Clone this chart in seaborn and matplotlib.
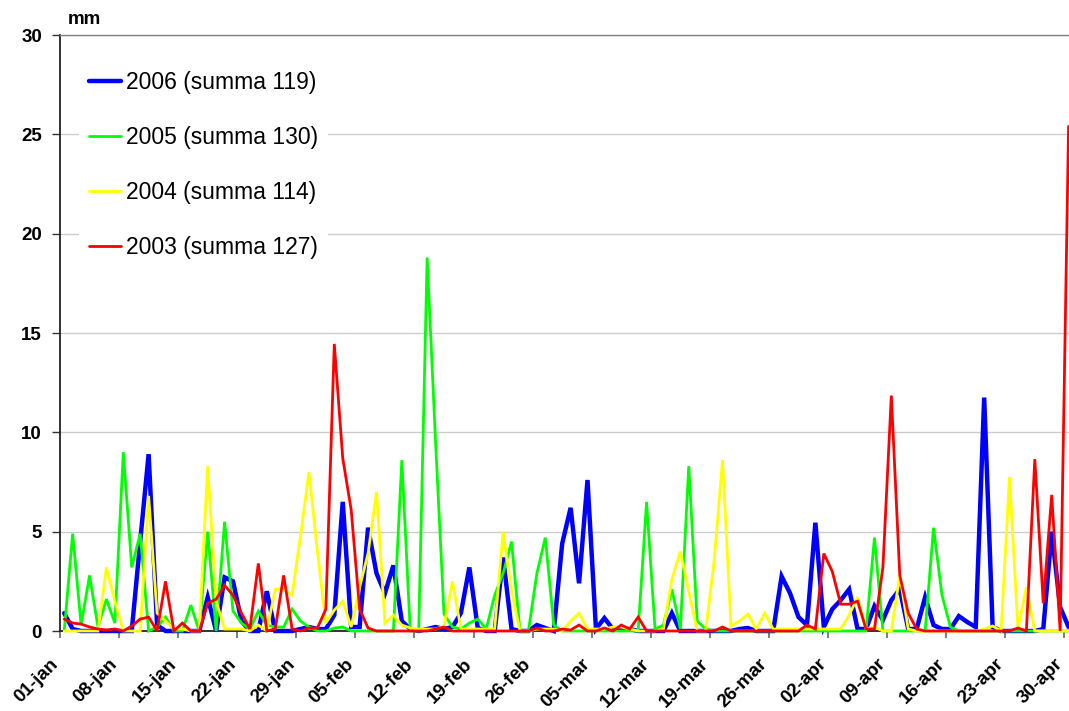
import numpy as np
import pandas as pd
import matplotlib
matplotlib.use("Agg")
import matplotlib.pyplot as plt
import matplotlib.transforms as mtransforms
import seaborn as sns

# ---------------- data (daily precipitation, mm) ----------------
days = pd.date_range("2006-01-01", "2006-04-30", freq="D")
day_labels = [f"{d.day:02d}-{['jan','feb','mar','apr'][d.month-1]}" for d in days]

tick_labels = ["01-jan", "08-jan", "15-jan", "22-jan", "29-jan", "05-feb", "12-feb",
               "19-feb", "26-feb", "05-mar", "12-mar", "19-mar", "26-mar", "02-apr",
               "09-apr", "16-apr", "23-apr", "30-apr"]

y2006 = [0.9, 0.1, 0, 0, 0, 0, 0, 0, 0, 4.5,
         8.9, 0.3, 0, 0, 0, 0, 0, 1.7, 0, 2.7,
         2.5, 0.5, 0, 0, 2.0, 0, 0, 0, 0.1, 0.2,
         0.1, 0.1, 0.8, 6.5, 0.2, 0.2, 5.2, 2.9, 1.9, 3.3,
         0.5, 0.1, 0, 0.1, 0.2, 0.1, 0.2, 0.9, 3.2, 0.15,
         0, 0, 3.7, 0.1, 0, 0, 0.3, 0.15, 0, 4.4,
         6.2, 2.4, 7.6, 0.1, 0.65, 0.1, 0.1, 0.1, 0, 0,
         0, 0, 0.9, 0, 0, 0, 0, 0, 0, 0,
         0.1, 0.15, 0, 0, 0, 2.75, 1.9, 0.7, 0.3, 5.45,
         0.2, 1.1, 1.55, 2.1, 0.1, 0.1, 1.25, 0.55, 1.55, 2.1,
         0.1, 0.1, 1.7, 0.3, 0.1, 0.1, 0.75, 0.45, 0.2, 11.75,
         0.2, 0, 0, 0, 0, 0, 0.1, 5.0, 1.2, 0.2]

y2005 = [0, 4.9, 0.3, 2.8, 0.2, 1.6, 0.4, 9.0, 3.2, 4.9,
         0, 0.2, 0.7, 0, 0, 1.3, 0, 5.0, 0, 5.5,
         1.0, 0.4, 0.1, 1.0, 0.3, 0.2, 0.2, 1.1, 0.5, 0.2,
         0, 0, 0.15, 0.2, 0, 0, 0, 0, 0, 0,
         8.6, 0, 0, 18.8, 9.5, 0.85, 0.2, 0.1, 0.4, 0.6,
         0.1, 1.8, 2.9, 4.5, 0, 0, 2.9, 4.7, 0.3, 0,
         0, 0, 0, 0, 0, 0, 0, 0, 0, 6.5,
         0.1, 0.3, 2.1, 0.1, 8.3, 0.5, 0.1, 0, 0, 0,
         0, 0, 0, 0, 0, 0, 0, 0, 0, 0,
         0, 0, 0, 0, 0, 0, 4.7, 0, 0, 0,
         0, 0, 0, 5.2, 1.8, 0.2, 0, 0, 0, 0,
         0, 0, 0, 0, 0, 0, 0, 0, 0, 0]

y2004 = [0, 0, 0, 0, 0, 3.2, 1.5, 0, 0, 0,
         6.8, 0.9, 0.5, 0.1, 0.1, 0, 0, 8.3, 1.5, 0.1,
         0.1, 0.1, 0, 0.3, 0, 2.1, 2.1, 1.8, 4.8, 8.0,
         4.0, 0.4, 1.05, 1.5, 0.2, 2.2, 3.9, 7.0, 0.4, 0.8,
         0.3, 0.15, 0.1, 0.1, 0.1, 0.25, 2.5, 0.1, 0.1, 0.1,
         0.1, 0.1, 5.0, 2.0, 0, 0, 0.1, 0.1, 0.1, 0,
         0.5, 0.9, 0.1, 0.1, 0.1, 0.2, 0.2, 0.1, 0, 0,
         0, 0.1, 2.6, 4.0, 2.0, 0, 0, 3.5, 8.6, 0.25,
         0.5, 0.85, 0.1, 0.9, 0.1, 0.1, 0.1, 0.1, 0.1, 0.1,
         0.1, 0.1, 0.1, 0.8, 1.7, 0.1, 0.2, 0, 0, 2.8,
         0.1, 0, 0, 0, 0, 0, 0, 0, 0, 0.1,
         0.25, 0, 7.75, 0.1, 2.2, 0, 0, 0, 0, 0]

y2003 = [0.6, 0.4, 0.35, 0.2, 0.1, 0.05, 0.1, 0, 0.25, 0.6,
         0.7, 0, 2.5, 0, 0.4, 0, 0, 1.4, 1.6, 2.3,
         1.8, 0.9, 0.1, 3.4, 0, 0.1, 2.8, 0.1, 0, 0.15,
         0.15, 1.1, 14.45, 8.7, 6.1, 1.1, 0.15, 0, 0, 0,
         0, 0, 0, 0, 0.1, 0.2, 0, 0, 0, 0,
         0, 0, 0, 0, 0, 0, 0.15, 0, 0, 0.1,
         0.05, 0.3, 0, 0, 0.15, 0, 0.3, 0.1, 0.7, 0,
         0, 0, 0, 0, 0, 0, 0, 0, 0.2, 0,
         0, 0, 0, 0, 0, 0, 0, 0, 0.3, 0.1,
         3.9, 3.0, 1.35, 1.35, 1.5, 0.1, 0.1, 3.2, 11.85, 2.8,
         0.9, 0.1, 0, 0, 0, 0, 0, 0, 0, 0,
         0, 0, 0, 0.15, 0, 8.65, 1.4, 6.85, 0, 25.4]

series_names = ["2006 (summa 119)", "2005 (summa 130)", "2004 (summa 114)", "2003 (summa 127)"]
series_values = [y2006, y2005, y2004, y2003]
series_colors = ["#0000FF", "#00FF00", "#FFFF00", "#FF0000"]
series_widths = [3.2, 2.0, 2.0, 2.0]

# ---------------- figure ----------------
sns.set_theme(style="white")
plt.rcParams["font.family"] = ["Liberation Sans", "DejaVu Sans"]
plt.rcParams["text.color"] = "black"
plt.rcParams["xtick.color"] = "black"
plt.rcParams["ytick.color"] = "black"

W, H = 1069, 711
fig = plt.figure(figsize=(W / 100, H / 100), dpi=100)
fig.patch.set_facecolor("white")
cat_w = 8.44
ax = fig.add_axes([60 / W, (H - 631) / H, 120 * cat_w / W, 596 / H])
ax.set_facecolor("white")

x = np.arange(len(days))
for name, vals, col, lw in zip(series_names, series_values, series_colors, series_widths):
    df = pd.DataFrame({"day": x, "mm": vals})
    sns.lineplot(data=df, x="day", y="mm", ax=ax, color=col, linewidth=lw,
                 label=name, zorder=3)

for ln in ax.get_lines():
    ln.set_clip_on(False)
    ln.set_solid_joinstyle("miter")

ax.set_xlim(-0.5, len(days) - 0.5)
ax.set_ylim(0, 30)
tick_pos = [i - 0.5 for i, lab in enumerate(day_labels) if lab in tick_labels]
ax.set_xticks(tick_pos)
ax.set_yticks(range(0, 31, 5))
ax.set_xlabel("")
ax.set_ylabel("")

ax.yaxis.grid(True, color="#CCCCCC", linewidth=1)
ax.xaxis.grid(False)
ax.set_axisbelow(True)

ax.tick_params(axis="y", direction="out", length=6, width=1, color="#333333", pad=7,
               left=True, labelcolor="black")
ax.tick_params(axis="x", direction="out", length=5, width=1.2, color="#666666", pad=17,
               bottom=True, labelcolor="black")

ax.set_xticklabels(tick_labels, rotation=45, ha="right", va="center",
                   rotation_mode="anchor", fontsize=13.5, fontweight="bold", color="black")
ax.set_yticklabels([str(v) for v in range(0, 31, 5)], fontsize=13.5, fontweight="bold",
                   color="black")

for side in ["left", "bottom"]:
    ax.spines[side].set_color("#222222")
    ax.spines[side].set_linewidth(1.3)
ax.spines["top"].set_color("#808080")
ax.spines["top"].set_linewidth(1)
ax.spines["right"].set_visible(False)

handles, labels = ax.get_legend_handles_labels()
leg = ax.legend(handles, labels, loc="upper left",
                bbox_to_anchor=(68 / W, 1 - 50 / H), bbox_transform=fig.transFigure,
                frameon=True, fancybox=False, edgecolor="none", facecolor="white",
                framealpha=1, fontsize=16.5, handlelength=1.4, handletextpad=0.25,
                labelspacing=1.4, borderpad=0.4, labelcolor="black")

fig.text(68 / W, 1 - 19 / H, "mm", fontsize=13.5, fontweight="bold", va="center",
         ha="left", color="black")

# shift x tick labels slightly left (Excel-like placement)
off = mtransforms.ScaledTranslation(-4 / 100, 0, fig.dpi_scale_trans)
for t in ax.xaxis.get_major_ticks():
    t.label1.set_transform(t.label1.get_transform() + off)

fig.savefig("out.png", dpi=100, facecolor="white")
